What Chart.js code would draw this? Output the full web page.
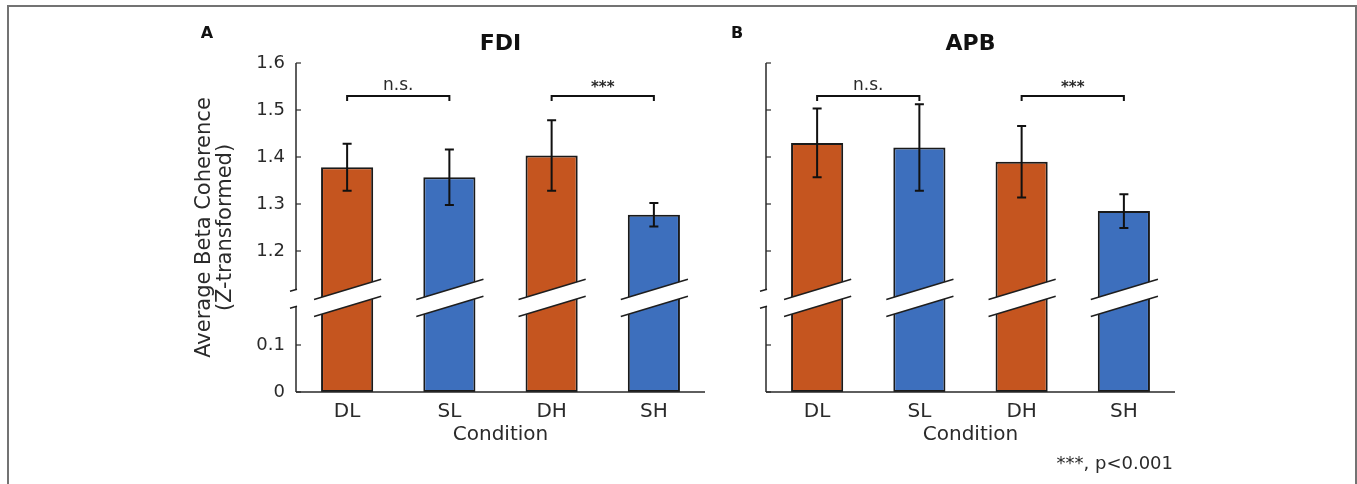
<!DOCTYPE html>
<html>
<head>
<meta charset="utf-8">
<script src="https://cdn.jsdelivr.net/npm/chart.js@4.4.1/dist/chart.umd.min.js"></script>
<style>
  html, body { margin: 0; padding: 0; background: #fff; }
  #wrap { position: relative; width: 1357px; height: 484px; overflow: hidden; }
  #frame { position: absolute; left: 7px; top: 5px; width: 1350px; height: 520px; border: 2px solid #737373; box-sizing: border-box; }
  #cA { position: absolute; left: 0; top: 0; }
  #cB { position: absolute; left: 720px; top: 0; }
</style>
</head>
<body>
<div id="wrap">
  <div id="frame"></div>
  <canvas id="cA" width="720" height="484"></canvas>
  <canvas id="cB" width="637" height="484"></canvas>
</div>
<script>
const categories = ["DL", "SL", "DH", "SH"];
const fdiMeans = [1.378, 1.357, 1.403, 1.277];
const fdiSem = [0.050, 0.059, 0.075, 0.025];
const apbMeans = [1.430, 1.420, 1.390, 1.285];
const apbSem = [0.073, 0.092, 0.076, 0.036];
const yTickValues = [0, 0.1, 1.2, 1.3, 1.4, 1.5, 1.6];
const brackets = [
  { from: 0, to: 1, label: "n.s.", level: 1.53 },
  { from: 2, to: 3, label: "***", level: 1.53 },
];

const ORANGE = "#c5551f";
const BLUE = "#3d6fbd";
const barColors = [ORANGE, BLUE, ORANGE, BLUE];
const INK = "#2a2a2a";
const FONT = "'DejaVu Sans', 'Liberation Sans', Arial, sans-serif";

// broken axis: everything above the break is shifted down by 0.9
const BREAK_AT = 0.2;
const SHIFT = 0.9;
const toAxis = (v) => (v > 0.5 ? +(v - SHIFT).toFixed(4) : v);
const fromAxis = (v) => (v > BREAK_AT ? v + SHIFT : v);

function stripe(ctx, x0, x1, cx, cy) {
  const k = 0.3, t = 8.5;
  const yAt = (x, off) => cy + off - k * (x - cx);
  ctx.save();
  ctx.beginPath();
  ctx.moveTo(x0, yAt(x0, -t));
  ctx.lineTo(x1, yAt(x1, -t));
  ctx.lineTo(x1, yAt(x1, t));
  ctx.lineTo(x0, yAt(x0, t));
  ctx.closePath();
  ctx.fillStyle = "#fff";
  ctx.fill();
  ctx.beginPath();
  ctx.moveTo(x0, yAt(x0, -t));
  ctx.lineTo(x1, yAt(x1, -t));
  ctx.moveTo(x0, yAt(x0, t));
  ctx.lineTo(x1, yAt(x1, t));
  ctx.strokeStyle = "#1e1e1e";
  ctx.lineWidth = 1.5;
  ctx.stroke();
  ctx.restore();
}

const brokenAxis = {
  id: "brokenAxis",
  afterDatasetsDraw(chart, args, o) {
    const { ctx, chartArea: a } = chart;
    const ys = chart.scales.y;
    const bars = chart.getDatasetMeta(0).data;
    const yb = ys.getPixelForValue(BREAK_AT);

    ctx.save();
    ctx.strokeStyle = INK;
    ctx.lineWidth = 1.5;
    // axis lines
    ctx.beginPath();
    ctx.moveTo(a.left, a.top);
    ctx.lineTo(a.left, a.bottom);
    ctx.moveTo(a.left, a.bottom);
    ctx.lineTo(a.right, a.bottom);
    ctx.stroke();
    // inward tick marks
    ctx.lineWidth = 1.2;
    ys.ticks.forEach((t) => {
      const y = ys.getPixelForValue(t.value);
      ctx.beginPath();
      ctx.moveTo(a.left, y);
      ctx.lineTo(a.left + 5, y);
      ctx.stroke();
    });
    ctx.restore();

    // breaks through bars and axis
    bars.forEach((b) => {
      stripe(ctx, b.x - b.width / 2 - 7, b.x + b.width / 2 + 8, b.x, yb);
    });
    stripe(ctx, a.left - 6, a.left + 1, a.left, yb);

    // error bars
    ctx.save();
    ctx.strokeStyle = "#111";
    ctx.lineWidth = 2;
    o.means.forEach((m, i) => {
      const x = bars[i].x;
      const yt = ys.getPixelForValue(toAxis(m + o.sem[i]));
      const yl = ys.getPixelForValue(toAxis(m - o.sem[i]));
      ctx.beginPath();
      ctx.moveTo(x, yt); ctx.lineTo(x, yl);
      ctx.moveTo(x - 4.5, yt); ctx.lineTo(x + 4.5, yt);
      ctx.moveTo(x - 4.5, yl); ctx.lineTo(x + 4.5, yl);
      ctx.stroke();
    });

    // significance brackets
    ctx.fillStyle = INK;
    ctx.textAlign = "center";
    ctx.textBaseline = "alphabetic";
    brackets.forEach((br) => {
      const x0 = bars[br.from].x, x1 = bars[br.to].x;
      const y = ys.getPixelForValue(toAxis(br.level));
      ctx.beginPath();
      ctx.moveTo(x0, y + 5); ctx.lineTo(x0, y); ctx.lineTo(x1, y); ctx.lineTo(x1, y + 5);
      ctx.stroke();
      if (br.label === "***") {
        ctx.font = "bold 15px " + FONT;
        ctx.fillText(br.label, (x0 + x1) / 2, y - 4);
      } else {
        ctx.font = "17px " + FONT;
        ctx.fillText(br.label, (x0 + x1) / 2, y - 6);
      }
    });

    // panel title and letter
    ctx.textBaseline = "middle";
    ctx.font = "bold 22px " + FONT;
    ctx.fillStyle = "#111";
    ctx.fillText(o.title, (a.left + a.right) / 2, 44);
    ctx.font = "bold 16px " + FONT;
    ctx.fillText(o.letter, o.letterX, 34);

    if (o.note) {
      ctx.font = "18px " + FONT;
      ctx.fillStyle = INK;
      ctx.textAlign = "right";
      ctx.fillText(o.note, a.right - 2, 464);
    }
    ctx.restore();
  },
};

function makeChart(id, means, sem, cfg) {
  return new Chart(document.getElementById(id), {
    type: "bar",
    data: {
      labels: categories,
      datasets: [{
        data: means.map(toAxis),
        backgroundColor: barColors,
        borderColor: "#1a1a1a",
        borderWidth: 2,
        borderSkipped: false,
        barPercentage: 0.51,
        categoryPercentage: 1,
      }],
    },
    options: {
      responsive: false,
      animation: false,
      layout: { padding: cfg.padding },
      plugins: {
        legend: { display: false },
        tooltip: { enabled: false },
        brokenAxis: { means, sem, title: cfg.title, letter: cfg.letter, letterX: cfg.letterX, note: cfg.note },
      },
      scales: {
        x: {
          grid: { display: false, drawTicks: false },
          border: { display: false },
          ticks: { color: INK, font: { family: FONT, size: 20 }, padding: 8 },
          title: { display: true, text: "Condition", color: INK, font: { family: FONT, size: 20 }, padding: { top: 0, bottom: 7 } },
          afterFit: (s) => { s.height = 62; },
        },
        y: {
          min: 0,
          max: 0.7,
          grid: { display: false, drawTicks: false },
          border: { display: false },
          afterBuildTicks: (s) => { s.ticks = yTickValues.map((v) => ({ value: toAxis(v) })); },
          ticks: {
            display: cfg.showY,
            color: INK,
            font: { family: FONT, size: 18 },
            padding: 11,
            callback: (v) => { const r = fromAxis(v); return r === 0 ? "0" : r.toFixed(1); },
          },
          title: {
            display: cfg.showY,
            text: ["Average Beta Coherence", "(Z-transformed)"],
            color: INK,
            font: { family: FONT, size: 21, lineHeight: 1.0 },
            padding: { top: 9, bottom: 0 },
          },
          afterFit: (s) => { s.width = cfg.yWidth; },
        },
      },
    },
    plugins: [brokenAxis],
  });
}

makeChart("cA", fdiMeans, fdiSem, {
  padding: { left: 185, right: 15, top: 63, bottom: 30 },
  yWidth: 111, showY: true, title: "FDI", letter: "A", letterX: 207,
});
makeChart("cB", apbMeans, apbSem, {
  padding: { left: 46, right: 182, top: 63, bottom: 30 },
  yWidth: 0, showY: false, title: "APB", letter: "B", letterX: 17, note: "***, p<0.001",
});
</script>
</body>
</html>
